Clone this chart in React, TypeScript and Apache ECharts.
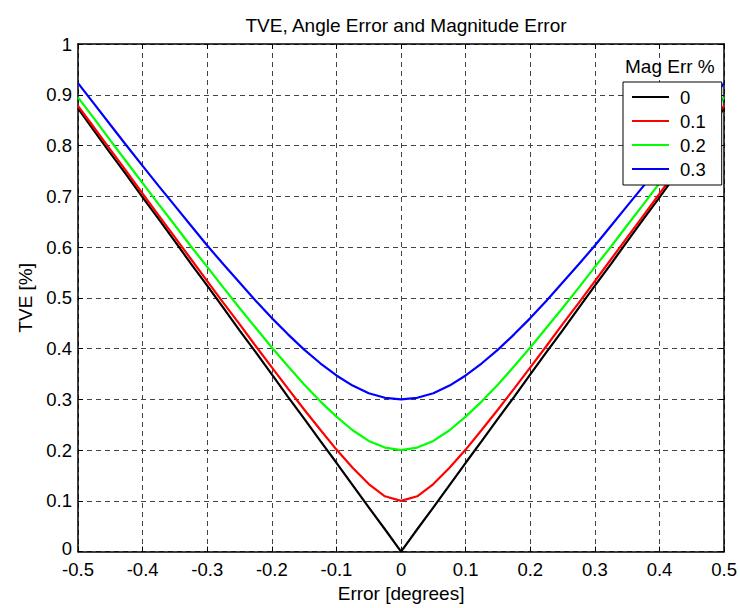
import React, { useEffect, useRef } from "react";
import * as echarts from "echarts";

const xValues = [
  -0.5, -0.475, -0.45, -0.425, -0.4, -0.375, -0.35, -0.325, -0.3, -0.275, -0.25, -0.225, -0.2, -0.175, -0.15, -0.125, -0.1, -0.075, -0.05, -0.025,
  0,
  0.025, 0.05, 0.075, 0.1, 0.125, 0.15, 0.175, 0.2, 0.225, 0.25, 0.275, 0.3, 0.325, 0.35, 0.375, 0.4, 0.425, 0.45, 0.475, 0.5,
];

const mag0 = [
  0.873, 0.829, 0.785, 0.742, 0.698, 0.655, 0.611, 0.567, 0.524, 0.48, 0.436, 0.393, 0.349, 0.305, 0.262, 0.218, 0.175, 0.131, 0.087, 0.044,
  0,
  0.044, 0.087, 0.131, 0.175, 0.218, 0.262, 0.305, 0.349, 0.393, 0.436, 0.48, 0.524, 0.567, 0.611, 0.655, 0.698, 0.742, 0.785, 0.829, 0.873,
];

const mag01 = [
  0.878, 0.835, 0.792, 0.749, 0.705, 0.662, 0.619, 0.576, 0.533, 0.49, 0.448, 0.405, 0.363, 0.321, 0.28, 0.24, 0.201, 0.165, 0.133, 0.109,
  0.1,
  0.109, 0.133, 0.165, 0.201, 0.24, 0.28, 0.321, 0.363, 0.405, 0.448, 0.49, 0.533, 0.576, 0.619, 0.662, 0.705, 0.749, 0.792, 0.835, 0.878,
];

const mag02 = [
  0.895, 0.853, 0.81, 0.768, 0.726, 0.684, 0.643, 0.601, 0.561, 0.52, 0.48, 0.441, 0.402, 0.365, 0.329, 0.296, 0.266, 0.239, 0.218, 0.205,
  0.2,
  0.205, 0.218, 0.239, 0.266, 0.296, 0.329, 0.365, 0.402, 0.441, 0.48, 0.52, 0.561, 0.601, 0.643, 0.684, 0.726, 0.768, 0.81, 0.853, 0.895,
];

const mag03 = [
  0.923, 0.882, 0.841, 0.8, 0.76, 0.72, 0.681, 0.642, 0.603, 0.566, 0.53, 0.494, 0.46, 0.428, 0.398, 0.371, 0.347, 0.327, 0.312, 0.303,
  0.3,
  0.303, 0.312, 0.327, 0.347, 0.371, 0.398, 0.428, 0.46, 0.494, 0.53, 0.566, 0.603, 0.642, 0.681, 0.72, 0.76, 0.8, 0.841, 0.882, 0.923,
];

const seriesNames = ["0", "0.1", "0.2", "0.3"];
const seriesColors = ["#000000", "#ff0000", "#00ff00", "#0000ff"];
const seriesData = [mag0, mag01, mag02, mag03];

const FONT = "'Liberation Sans', Arial, Helvetica, sans-serif";

export default function App() {
  const ref = useRef<HTMLDivElement>(null);

  useEffect(() => {
    if (!ref.current) return;
    const chart = echarts.init(ref.current, null, { renderer: "svg" });
    const gridLine = { show: true, lineStyle: { color: "#444", type: [5, 4] as any, width: 1 } };
    chart.setOption({
      animation: false,
      backgroundColor: "#ffffff",
      title: {
        text: "TVE, Angle Error and Magnitude Error",
        left: 401,
        textAlign: "center",
        top: 11,
        textStyle: { fontFamily: FONT, fontSize: 19, fontWeight: "normal", color: "#000" },
      },
      grid: { left: 78, right: 14, top: 44, bottom: 54, containLabel: false },
      legend: {
        orient: "vertical",
        left: 623,
        top: 82,
        data: seriesNames,
        icon: "rect",
        itemWidth: 37,
        itemHeight: 2,
        itemGap: 4,
        padding: [5, 16, 6, 9],
        backgroundColor: "#ffffff",
        borderColor: "#000",
        borderWidth: 1,
        borderRadius: 0,
        textStyle: { fontFamily: FONT, fontSize: 18.5, lineHeight: 20, color: "#000", padding: [0, 0, 0, 6] },
      },
      graphic: [
        {
          type: "text",
          left: 625,
          top: 57,
          style: { text: "Mag Err %", font: `19px ${FONT}`, fill: "#000" },
          z: 100,
        },
      ],
      xAxis: [
        {
          type: "value",
          min: -0.5,
          max: 0.5,
          interval: 0.1,
          name: "Error [degrees]",
          nameLocation: "middle",
          nameGap: 31,
          nameTextStyle: { fontFamily: FONT, fontSize: 19, color: "#000" },
          axisLine: { show: true, onZero: false, lineStyle: { color: "#000", width: 1.5 } },
          axisTick: { show: true, inside: true, length: 5, lineStyle: { color: "#000" } },
          axisLabel: { fontFamily: FONT, fontSize: 18.5, lineHeight: 18, color: "#000", margin: 9 },
          splitLine: gridLine,
        },
        {
          type: "value",
          position: "top",
          min: -0.5,
          max: 0.5,
          interval: 0.1,
          axisLine: { show: true, onZero: false, lineStyle: { color: "#000", width: 1.5 } },
          axisTick: { show: true, inside: true, length: 5, lineStyle: { color: "#000" } },
          axisLabel: { show: false },
          splitLine: { show: false },
        },
      ],
      yAxis: [
        {
          type: "value",
          min: 0,
          max: 1,
          interval: 0.1,
          name: "TVE [%]",
          nameLocation: "middle",
          nameGap: 43,
          nameTextStyle: { fontFamily: FONT, fontSize: 19, color: "#000" },
          axisLine: { show: true, onZero: false, lineStyle: { color: "#000", width: 1.5 } },
          axisTick: { show: true, inside: true, length: 5, lineStyle: { color: "#000" } },
          axisLabel: {
            fontFamily: FONT,
            fontSize: 18.5,
            lineHeight: 15,
            color: "#000",
            margin: 6,
            formatter: (v: number) => (v === 0 ? "{z|0}" : String(v)),
            rich: { z: { fontFamily: FONT, fontSize: 18.5, lineHeight: 15, color: "#000", padding: [0, 0, 7, 0] } },
          },
          splitLine: gridLine,
        },
        {
          type: "value",
          position: "right",
          min: 0,
          max: 1,
          interval: 0.1,
          axisLine: { show: true, onZero: false, lineStyle: { color: "#000", width: 1.5 } },
          axisTick: { show: true, inside: true, length: 5, lineStyle: { color: "#000" } },
          axisLabel: { show: false },
          splitLine: { show: false },
        },
      ],
      series: seriesNames.map((name, i) => ({
        name,
        type: "line",
        xAxisIndex: 0,
        yAxisIndex: 0,
        data: xValues.map((x, j) => [x, seriesData[i][j]]),
        showSymbol: false,
        symbol: "none",
        smooth: false,
        lineStyle: { color: seriesColors[i], width: 2.2 },
        itemStyle: { color: seriesColors[i] },
        clip: true,
      })),
    });
    return () => chart.dispose();
  }, []);

  return <div ref={ref} style={{ width: 740, height: 608, position: "absolute", left: 0, top: 0 }} />;
}
